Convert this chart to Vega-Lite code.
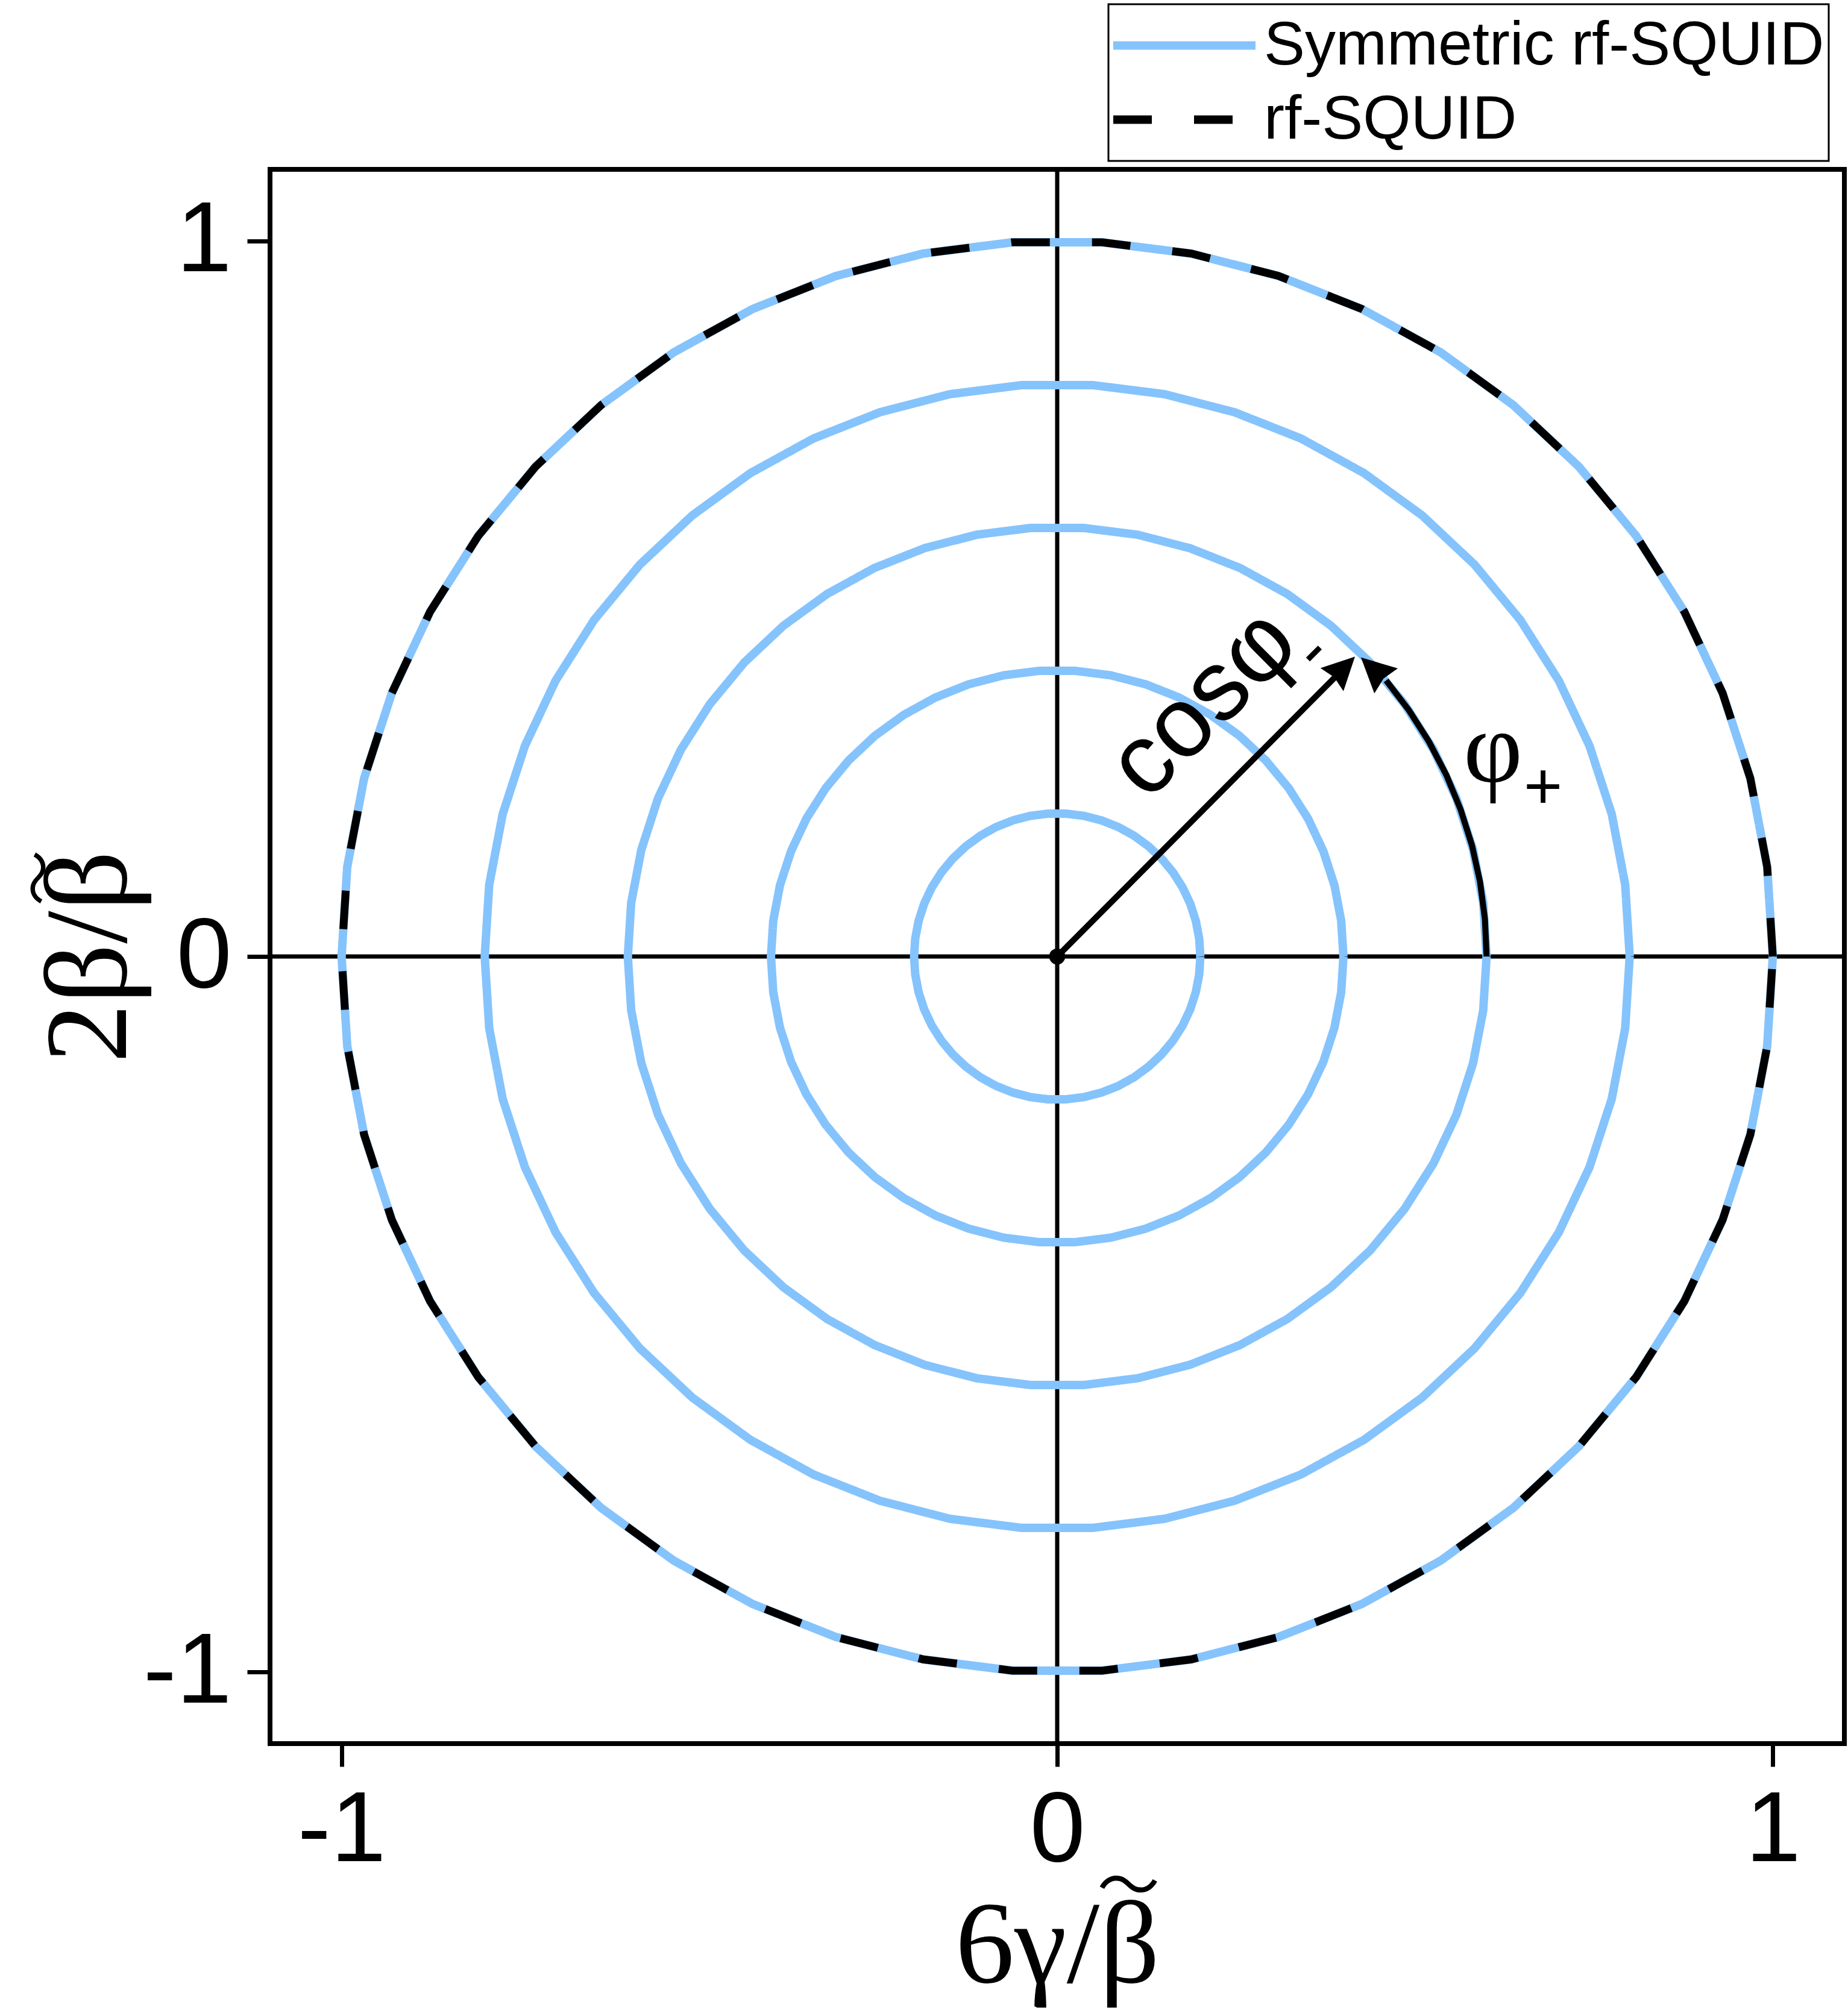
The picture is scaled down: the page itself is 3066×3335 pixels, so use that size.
{
  "$schema": "https://vega.github.io/schema/vega-lite/v6.json",
  "width": 2612,
  "height": 2612,
  "autosize": {"type": "none"},
  "padding": {"left": 448, "top": 281, "right": 6, "bottom": 442},
  "background": "white",
  "config": {
    "view": {"stroke": "black", "strokeWidth": 8},
    "axis": {
      "domain": false, "grid": false, "ticks": true, "tickColor": "black", "tickWidth": 7, "tickSize": 38,
      "labelFont": "Liberation Sans, Arial, Helvetica, sans-serif", "labelFontSize": 165, "labelColor": "black", "labelPadding": 26,
      "labelFlush": false, "labelOverlap": false, "labelBound": false,
      "titleFont": "Liberation Serif, Times New Roman, serif", "titleFontSize": 196, "titleColor": "black", "titleFontWeight": "normal"
    },
    "legend": {"strokeWidth": 3}
  },
  "datasets": {
    "circ": [
      {"g":1,"i":0,"x":0.2,"y":0},{"g":1,"i":1,"x":0.1984,"y":0.0251},{"g":1,"i":2,"x":0.1937,"y":0.0497},{"g":1,"i":3,"x":0.186,"y":0.0736},{"g":1,"i":4,"x":0.1753,"y":0.0964},{"g":1,"i":5,"x":0.1618,"y":0.1176},{"g":1,"i":6,"x":0.1458,"y":0.1369},{"g":1,"i":7,"x":0.1275,"y":0.1541},{"g":1,"i":8,"x":0.1072,"y":0.1689},{"g":1,"i":9,"x":0.0852,"y":0.181},{"g":1,"i":10,"x":0.0618,"y":0.1902},{"g":1,"i":11,"x":0.0375,"y":0.1965},{"g":1,"i":12,"x":0.0126,"y":0.1996},
      {"g":1,"i":13,"x":-0.0126,"y":0.1996},{"g":1,"i":14,"x":-0.0375,"y":0.1965},{"g":1,"i":15,"x":-0.0618,"y":0.1902},{"g":1,"i":16,"x":-0.0852,"y":0.181},{"g":1,"i":17,"x":-0.1072,"y":0.1689},{"g":1,"i":18,"x":-0.1275,"y":0.1541},{"g":1,"i":19,"x":-0.1458,"y":0.1369},{"g":1,"i":20,"x":-0.1618,"y":0.1176},{"g":1,"i":21,"x":-0.1753,"y":0.0964},{"g":1,"i":22,"x":-0.186,"y":0.0736},{"g":1,"i":23,"x":-0.1937,"y":0.0497},{"g":1,"i":24,"x":-0.1984,"y":0.0251},{"g":1,"i":25,"x":-0.2,"y":0},
      {"g":1,"i":26,"x":-0.1984,"y":-0.0251},{"g":1,"i":27,"x":-0.1937,"y":-0.0497},{"g":1,"i":28,"x":-0.186,"y":-0.0736},{"g":1,"i":29,"x":-0.1753,"y":-0.0964},{"g":1,"i":30,"x":-0.1618,"y":-0.1176},{"g":1,"i":31,"x":-0.1458,"y":-0.1369},{"g":1,"i":32,"x":-0.1275,"y":-0.1541},{"g":1,"i":33,"x":-0.1072,"y":-0.1689},{"g":1,"i":34,"x":-0.0852,"y":-0.181},{"g":1,"i":35,"x":-0.0618,"y":-0.1902},{"g":1,"i":36,"x":-0.0375,"y":-0.1965},{"g":1,"i":37,"x":-0.0126,"y":-0.1996},
      {"g":1,"i":38,"x":0.0126,"y":-0.1996},{"g":1,"i":39,"x":0.0375,"y":-0.1965},{"g":1,"i":40,"x":0.0618,"y":-0.1902},{"g":1,"i":41,"x":0.0852,"y":-0.181},{"g":1,"i":42,"x":0.1072,"y":-0.1689},{"g":1,"i":43,"x":0.1275,"y":-0.1541},{"g":1,"i":44,"x":0.1458,"y":-0.1369},{"g":1,"i":45,"x":0.1618,"y":-0.1176},{"g":1,"i":46,"x":0.1753,"y":-0.0964},{"g":1,"i":47,"x":0.186,"y":-0.0736},{"g":1,"i":48,"x":0.1937,"y":-0.0497},{"g":1,"i":49,"x":0.1984,"y":-0.0251},{"g":1,"i":50,"x":0.2,"y":0},

      {"g":2,"i":0,"x":0.4,"y":0},{"g":2,"i":1,"x":0.3968,"y":0.0501},{"g":2,"i":2,"x":0.3874,"y":0.0995},{"g":2,"i":3,"x":0.3719,"y":0.1472},{"g":2,"i":4,"x":0.3505,"y":0.1927},{"g":2,"i":5,"x":0.3236,"y":0.2351},{"g":2,"i":6,"x":0.2916,"y":0.2738},{"g":2,"i":7,"x":0.255,"y":0.3082},{"g":2,"i":8,"x":0.2143,"y":0.3377},{"g":2,"i":9,"x":0.1703,"y":0.3619},{"g":2,"i":10,"x":0.1236,"y":0.3804},{"g":2,"i":11,"x":0.075,"y":0.3929},{"g":2,"i":12,"x":0.0251,"y":0.3992},
      {"g":2,"i":13,"x":-0.0251,"y":0.3992},{"g":2,"i":14,"x":-0.075,"y":0.3929},{"g":2,"i":15,"x":-0.1236,"y":0.3804},{"g":2,"i":16,"x":-0.1703,"y":0.3619},{"g":2,"i":17,"x":-0.2143,"y":0.3377},{"g":2,"i":18,"x":-0.255,"y":0.3082},{"g":2,"i":19,"x":-0.2916,"y":0.2738},{"g":2,"i":20,"x":-0.3236,"y":0.2351},{"g":2,"i":21,"x":-0.3505,"y":0.1927},{"g":2,"i":22,"x":-0.3719,"y":0.1472},{"g":2,"i":23,"x":-0.3874,"y":0.0995},{"g":2,"i":24,"x":-0.3968,"y":0.0501},{"g":2,"i":25,"x":-0.4,"y":0},
      {"g":2,"i":26,"x":-0.3968,"y":-0.0501},{"g":2,"i":27,"x":-0.3874,"y":-0.0995},{"g":2,"i":28,"x":-0.3719,"y":-0.1472},{"g":2,"i":29,"x":-0.3505,"y":-0.1927},{"g":2,"i":30,"x":-0.3236,"y":-0.2351},{"g":2,"i":31,"x":-0.2916,"y":-0.2738},{"g":2,"i":32,"x":-0.255,"y":-0.3082},{"g":2,"i":33,"x":-0.2143,"y":-0.3377},{"g":2,"i":34,"x":-0.1703,"y":-0.3619},{"g":2,"i":35,"x":-0.1236,"y":-0.3804},{"g":2,"i":36,"x":-0.075,"y":-0.3929},{"g":2,"i":37,"x":-0.0251,"y":-0.3992},
      {"g":2,"i":38,"x":0.0251,"y":-0.3992},{"g":2,"i":39,"x":0.075,"y":-0.3929},{"g":2,"i":40,"x":0.1236,"y":-0.3804},{"g":2,"i":41,"x":0.1703,"y":-0.3619},{"g":2,"i":42,"x":0.2143,"y":-0.3377},{"g":2,"i":43,"x":0.255,"y":-0.3082},{"g":2,"i":44,"x":0.2916,"y":-0.2738},{"g":2,"i":45,"x":0.3236,"y":-0.2351},{"g":2,"i":46,"x":0.3505,"y":-0.1927},{"g":2,"i":47,"x":0.3719,"y":-0.1472},{"g":2,"i":48,"x":0.3874,"y":-0.0995},{"g":2,"i":49,"x":0.3968,"y":-0.0501},{"g":2,"i":50,"x":0.4,"y":0},

      {"g":3,"i":0,"x":0.6,"y":0},{"g":3,"i":1,"x":0.5953,"y":0.0752},{"g":3,"i":2,"x":0.5811,"y":0.1492},{"g":3,"i":3,"x":0.5579,"y":0.2209},{"g":3,"i":4,"x":0.5258,"y":0.2891},{"g":3,"i":5,"x":0.4854,"y":0.3527},{"g":3,"i":6,"x":0.4374,"y":0.4107},{"g":3,"i":7,"x":0.3825,"y":0.4623},{"g":3,"i":8,"x":0.3215,"y":0.5066},{"g":3,"i":9,"x":0.2555,"y":0.5429},{"g":3,"i":10,"x":0.1854,"y":0.5706},{"g":3,"i":11,"x":0.1124,"y":0.5894},{"g":3,"i":12,"x":0.0377,"y":0.5988},
      {"g":3,"i":13,"x":-0.0377,"y":0.5988},{"g":3,"i":14,"x":-0.1124,"y":0.5894},{"g":3,"i":15,"x":-0.1854,"y":0.5706},{"g":3,"i":16,"x":-0.2555,"y":0.5429},{"g":3,"i":17,"x":-0.3215,"y":0.5066},{"g":3,"i":18,"x":-0.3825,"y":0.4623},{"g":3,"i":19,"x":-0.4374,"y":0.4107},{"g":3,"i":20,"x":-0.4854,"y":0.3527},{"g":3,"i":21,"x":-0.5258,"y":0.2891},{"g":3,"i":22,"x":-0.5579,"y":0.2209},{"g":3,"i":23,"x":-0.5811,"y":0.1492},{"g":3,"i":24,"x":-0.5953,"y":0.0752},{"g":3,"i":25,"x":-0.6,"y":0},
      {"g":3,"i":26,"x":-0.5953,"y":-0.0752},{"g":3,"i":27,"x":-0.5811,"y":-0.1492},{"g":3,"i":28,"x":-0.5579,"y":-0.2209},{"g":3,"i":29,"x":-0.5258,"y":-0.2891},{"g":3,"i":30,"x":-0.4854,"y":-0.3527},{"g":3,"i":31,"x":-0.4374,"y":-0.4107},{"g":3,"i":32,"x":-0.3825,"y":-0.4623},{"g":3,"i":33,"x":-0.3215,"y":-0.5066},{"g":3,"i":34,"x":-0.2555,"y":-0.5429},{"g":3,"i":35,"x":-0.1854,"y":-0.5706},{"g":3,"i":36,"x":-0.1124,"y":-0.5894},{"g":3,"i":37,"x":-0.0377,"y":-0.5988},
      {"g":3,"i":38,"x":0.0377,"y":-0.5988},{"g":3,"i":39,"x":0.1124,"y":-0.5894},{"g":3,"i":40,"x":0.1854,"y":-0.5706},{"g":3,"i":41,"x":0.2555,"y":-0.5429},{"g":3,"i":42,"x":0.3215,"y":-0.5066},{"g":3,"i":43,"x":0.3825,"y":-0.4623},{"g":3,"i":44,"x":0.4374,"y":-0.4107},{"g":3,"i":45,"x":0.4854,"y":-0.3527},{"g":3,"i":46,"x":0.5258,"y":-0.2891},{"g":3,"i":47,"x":0.5579,"y":-0.2209},{"g":3,"i":48,"x":0.5811,"y":-0.1492},{"g":3,"i":49,"x":0.5953,"y":-0.0752},{"g":3,"i":50,"x":0.6,"y":0},

      {"g":4,"i":0,"x":0.8,"y":0},{"g":4,"i":1,"x":0.7937,"y":0.1003},{"g":4,"i":2,"x":0.7749,"y":0.199},{"g":4,"i":3,"x":0.7438,"y":0.2945},{"g":4,"i":4,"x":0.701,"y":0.3854},{"g":4,"i":5,"x":0.6472,"y":0.4702},{"g":4,"i":6,"x":0.5832,"y":0.5476},{"g":4,"i":7,"x":0.5099,"y":0.6164},{"g":4,"i":8,"x":0.4287,"y":0.6755},{"g":4,"i":9,"x":0.3406,"y":0.7239},{"g":4,"i":10,"x":0.2472,"y":0.7608},{"g":4,"i":11,"x":0.1499,"y":0.7858},{"g":4,"i":12,"x":0.0502,"y":0.7984},
      {"g":4,"i":13,"x":-0.0502,"y":0.7984},{"g":4,"i":14,"x":-0.1499,"y":0.7858},{"g":4,"i":15,"x":-0.2472,"y":0.7608},{"g":4,"i":16,"x":-0.3406,"y":0.7239},{"g":4,"i":17,"x":-0.4287,"y":0.6755},{"g":4,"i":18,"x":-0.5099,"y":0.6164},{"g":4,"i":19,"x":-0.5832,"y":0.5476},{"g":4,"i":20,"x":-0.6472,"y":0.4702},{"g":4,"i":21,"x":-0.701,"y":0.3854},{"g":4,"i":22,"x":-0.7438,"y":0.2945},{"g":4,"i":23,"x":-0.7749,"y":0.199},{"g":4,"i":24,"x":-0.7937,"y":0.1003},{"g":4,"i":25,"x":-0.8,"y":0},
      {"g":4,"i":26,"x":-0.7937,"y":-0.1003},{"g":4,"i":27,"x":-0.7749,"y":-0.199},{"g":4,"i":28,"x":-0.7438,"y":-0.2945},{"g":4,"i":29,"x":-0.701,"y":-0.3854},{"g":4,"i":30,"x":-0.6472,"y":-0.4702},{"g":4,"i":31,"x":-0.5832,"y":-0.5476},{"g":4,"i":32,"x":-0.5099,"y":-0.6164},{"g":4,"i":33,"x":-0.4287,"y":-0.6755},{"g":4,"i":34,"x":-0.3406,"y":-0.7239},{"g":4,"i":35,"x":-0.2472,"y":-0.7608},{"g":4,"i":36,"x":-0.1499,"y":-0.7858},{"g":4,"i":37,"x":-0.0502,"y":-0.7984},
      {"g":4,"i":38,"x":0.0502,"y":-0.7984},{"g":4,"i":39,"x":0.1499,"y":-0.7858},{"g":4,"i":40,"x":0.2472,"y":-0.7608},{"g":4,"i":41,"x":0.3406,"y":-0.7239},{"g":4,"i":42,"x":0.4287,"y":-0.6755},{"g":4,"i":43,"x":0.5099,"y":-0.6164},{"g":4,"i":44,"x":0.5832,"y":-0.5476},{"g":4,"i":45,"x":0.6472,"y":-0.4702},{"g":4,"i":46,"x":0.701,"y":-0.3854},{"g":4,"i":47,"x":0.7438,"y":-0.2945},{"g":4,"i":48,"x":0.7749,"y":-0.199},{"g":4,"i":49,"x":0.7937,"y":-0.1003},{"g":4,"i":50,"x":0.8,"y":0},

      {"g":5,"i":0,"x":1,"y":0},{"g":5,"i":1,"x":0.9921,"y":0.1253},{"g":5,"i":2,"x":0.9686,"y":0.2487},{"g":5,"i":3,"x":0.9298,"y":0.3681},{"g":5,"i":4,"x":0.8763,"y":0.4818},{"g":5,"i":5,"x":0.809,"y":0.5878},{"g":5,"i":6,"x":0.729,"y":0.6845},{"g":5,"i":7,"x":0.6374,"y":0.7705},{"g":5,"i":8,"x":0.5358,"y":0.8443},{"g":5,"i":9,"x":0.4258,"y":0.9048},{"g":5,"i":10,"x":0.309,"y":0.9511},{"g":5,"i":11,"x":0.1874,"y":0.9823},{"g":5,"i":12,"x":0.0628,"y":0.998},
      {"g":5,"i":13,"x":-0.0628,"y":0.998},{"g":5,"i":14,"x":-0.1874,"y":0.9823},{"g":5,"i":15,"x":-0.309,"y":0.9511},{"g":5,"i":16,"x":-0.4258,"y":0.9048},{"g":5,"i":17,"x":-0.5358,"y":0.8443},{"g":5,"i":18,"x":-0.6374,"y":0.7705},{"g":5,"i":19,"x":-0.729,"y":0.6845},{"g":5,"i":20,"x":-0.809,"y":0.5878},{"g":5,"i":21,"x":-0.8763,"y":0.4818},{"g":5,"i":22,"x":-0.9298,"y":0.3681},{"g":5,"i":23,"x":-0.9686,"y":0.2487},{"g":5,"i":24,"x":-0.9921,"y":0.1253},{"g":5,"i":25,"x":-1,"y":0},
      {"g":5,"i":26,"x":-0.9921,"y":-0.1253},{"g":5,"i":27,"x":-0.9686,"y":-0.2487},{"g":5,"i":28,"x":-0.9298,"y":-0.3681},{"g":5,"i":29,"x":-0.8763,"y":-0.4818},{"g":5,"i":30,"x":-0.809,"y":-0.5878},{"g":5,"i":31,"x":-0.729,"y":-0.6845},{"g":5,"i":32,"x":-0.6374,"y":-0.7705},{"g":5,"i":33,"x":-0.5358,"y":-0.8443},{"g":5,"i":34,"x":-0.4258,"y":-0.9048},{"g":5,"i":35,"x":-0.309,"y":-0.9511},{"g":5,"i":36,"x":-0.1874,"y":-0.9823},{"g":5,"i":37,"x":-0.0628,"y":-0.998},
      {"g":5,"i":38,"x":0.0628,"y":-0.998},{"g":5,"i":39,"x":0.1874,"y":-0.9823},{"g":5,"i":40,"x":0.309,"y":-0.9511},{"g":5,"i":41,"x":0.4258,"y":-0.9048},{"g":5,"i":42,"x":0.5358,"y":-0.8443},{"g":5,"i":43,"x":0.6374,"y":-0.7705},{"g":5,"i":44,"x":0.729,"y":-0.6845},{"g":5,"i":45,"x":0.809,"y":-0.5878},{"g":5,"i":46,"x":0.8763,"y":-0.4818},{"g":5,"i":47,"x":0.9298,"y":-0.3681},{"g":5,"i":48,"x":0.9686,"y":-0.2487},{"g":5,"i":49,"x":0.9921,"y":-0.1253},{"g":5,"i":50,"x":1,"y":0}
    ]
  },
  "layer": [
    {
      "data": {"values": [{}]},
      "mark": {"type": "rule", "color": "black", "strokeWidth": 7},
      "encoding": {"x": {"datum": 0, "type": "quantitative", "scale": {"domain": [-1.1, 1.1], "nice": false, "zero": false}}}
    },
    {
      "data": {"values": [{}]},
      "mark": {"type": "rule", "color": "black", "strokeWidth": 7},
      "encoding": {"y": {"datum": 0, "type": "quantitative", "scale": {"domain": [-1.1, 1.1], "nice": false, "zero": false}}}
    },
    {
      "data": {"name": "circ"},
      "mark": {"type": "line", "strokeWidth": 14},
      "encoding": {
        "x": {"field": "x", "type": "quantitative", "scale": {"domain": [-1.1, 1.1], "nice": false, "zero": false},
          "axis": {"values": [-1, 0, 1], "labelExpr": "'' + datum.value", "title": "6\u03b3/\u03b2", "titleX": 1306, "titleY": 395, "titleAlign": "center", "titleBaseline": "alphabetic", "titleAngle": 0}},
        "y": {"field": "y", "type": "quantitative", "scale": {"domain": [-1.1, 1.1], "nice": false, "zero": false},
          "axis": {"values": [-1, 0, 1], "labelExpr": "'' + datum.value", "title": "2\u03b2/\u03b2", "titleX": -240, "titleY": 1306, "titleAlign": "center", "titleBaseline": "alphabetic", "titleAngle": 270}},
        "detail": {"field": "g", "type": "nominal"},
        "order": {"field": "i", "type": "quantitative"},
        "color": {"datum": "Symmetric rf-SQUID", "type": "nominal",
          "scale": {"domain": ["Symmetric rf-SQUID", "rf-SQUID"], "range": ["#85C3FC", "#000000"]},
          "legend": {"orient": "none", "legendX": 1391, "legendY": -274, "title": null, "symbolType": "stroke", "symbolSize": 55696, "symbolStrokeWidth": 14, "labelFont": "Liberation Sans, Arial, Helvetica, sans-serif", "labelFontSize": 102, "labelColor": "black", "labelLimit": 0, "labelOffset": 7, "symbolOffset": -6, "padding": 7, "clipHeight": 123, "rowPadding": 0, "strokeColor": "black"}},
        "strokeDash": {"datum": "Symmetric rf-SQUID", "type": "nominal",
          "scale": {"domain": ["Symmetric rf-SQUID", "rf-SQUID"], "range": [[1, 0], [64, 70]]},
          "legend": {"orient": "none", "legendX": 1391, "legendY": -274, "title": null, "symbolType": "stroke", "symbolSize": 55696, "symbolStrokeWidth": 14, "labelFont": "Liberation Sans, Arial, Helvetica, sans-serif", "labelFontSize": 102, "labelColor": "black", "labelLimit": 0, "labelOffset": 7, "symbolOffset": -6, "padding": 7, "clipHeight": 123, "rowPadding": 0, "strokeColor": "black"}}
      }
    },
    {
      "data": {"name": "circ"},
      "transform": [{"filter": "datum.g == 5"}],
      "mark": {"type": "line", "strokeWidth": 13},
      "encoding": {
        "x": {"field": "x", "type": "quantitative", "scale": {"domain": [-1.1, 1.1], "nice": false, "zero": false}},
        "y": {"field": "y", "type": "quantitative", "scale": {"domain": [-1.1, 1.1], "nice": false, "zero": false}},
        "order": {"field": "i", "type": "quantitative"},
        "color": {"datum": "rf-SQUID", "type": "nominal"},
        "strokeDash": {"datum": "rf-SQUID", "type": "nominal"}
      }
    },
    {
      "data": {"values": [
        {"i":0,"x":0.6,"y":0},{"i":1,"x":0.5977,"y":0.0523},{"i":2,"x":0.5909,"y":0.1042},{"i":3,"x":0.5796,"y":0.1553},{"i":4,"x":0.5638,"y":0.2052},{"i":5,"x":0.5438,"y":0.2536},{"i":6,"x":0.5196,"y":0.3},{"i":7,"x":0.4915,"y":0.3441},{"i":8,"x":0.4596,"y":0.3857}
      ]},
      "mark": {"type": "line", "color": "black", "strokeWidth": 10},
      "encoding": {
        "x": {"field": "x", "type": "quantitative", "scale": {"domain": [-1.1, 1.1], "nice": false, "zero": false}},
        "y": {"field": "y", "type": "quantitative", "scale": {"domain": [-1.1, 1.1], "nice": false, "zero": false}},
        "order": {"field": "i", "type": "quantitative"}
      }
    },
    {
      "data": {"values": [{"x": 0, "y": 0, "x2": 0.39, "y2": 0.392}]},
      "mark": {"type": "rule", "color": "black", "strokeWidth": 10},
      "encoding": {
        "x": {"field": "x", "type": "quantitative", "scale": {"domain": [-1.1, 1.1], "nice": false, "zero": false}},
        "y": {"field": "y", "type": "quantitative", "scale": {"domain": [-1.1, 1.1], "nice": false, "zero": false}},
        "x2": {"field": "x2"},
        "y2": {"field": "y2"}
      }
    },
    {
      "data": {"values": [{"x": 0.4, "y": 0.403}]},
      "mark": {"type": "point", "shape": "M0,-1L1,1L0,0.8L-1,1Z", "filled": true, "color": "black", "opacity": 1, "size": 2916, "angle": 45},
      "encoding": {
        "x": {"field": "x", "type": "quantitative", "scale": {"domain": [-1.1, 1.1], "nice": false, "zero": false}},
        "y": {"field": "y", "type": "quantitative", "scale": {"domain": [-1.1, 1.1], "nice": false, "zero": false}}
      }
    },
    {
      "data": {"values": [{"x": 0.442, "y": 0.4015}]},
      "mark": {"type": "point", "shape": "M0,-1L1,1L0,0.8L-1,1Z", "filled": true, "color": "black", "opacity": 1, "size": 3249, "angle": -47},
      "encoding": {
        "x": {"field": "x", "type": "quantitative", "scale": {"domain": [-1.1, 1.1], "nice": false, "zero": false}},
        "y": {"field": "y", "type": "quantitative", "scale": {"domain": [-1.1, 1.1], "nice": false, "zero": false}}
      }
    },
    {
      "data": {"values": [{"x": 0, "y": 0}]},
      "mark": {"type": "point", "shape": "circle", "filled": true, "color": "black", "opacity": 1, "size": 707},
      "encoding": {
        "x": {"field": "x", "type": "quantitative", "scale": {"domain": [-1.1, 1.1], "nice": false, "zero": false}},
        "y": {"field": "y", "type": "quantitative", "scale": {"domain": [-1.1, 1.1], "nice": false, "zero": false}}
      }
    },
    {
      "data": {"values": [{"x": 0.126, "y": 0.215, "t": "cos\u03c6"}]},
      "mark": {"type": "text", "font": "Liberation Sans, Arial, Helvetica, sans-serif", "fontSize": 165, "color": "black", "angle": -45, "align": "left", "baseline": "alphabetic"},
      "encoding": {
        "x": {"field": "x", "type": "quantitative", "scale": {"domain": [-1.1, 1.1], "nice": false, "zero": false}},
        "y": {"field": "y", "type": "quantitative", "scale": {"domain": [-1.1, 1.1], "nice": false, "zero": false}},
        "text": {"field": "t"}
      }
    },
    {
      "data": {"values": [{"x": 0.356, "y": 0.426, "t": "-"}]},
      "mark": {"type": "text", "font": "Liberation Sans, Arial, Helvetica, sans-serif", "fontSize": 115, "color": "black", "angle": -45, "align": "center", "baseline": "middle"},
      "encoding": {
        "x": {"field": "x", "type": "quantitative", "scale": {"domain": [-1.1, 1.1], "nice": false, "zero": false}},
        "y": {"field": "y", "type": "quantitative", "scale": {"domain": [-1.1, 1.1], "nice": false, "zero": false}},
        "text": {"field": "t"}
      }
    },
    {
      "data": {"values": [{"x": 0.609, "y": 0.244, "t": "\u03c6"}]},
      "mark": {"type": "text", "font": "Liberation Serif, Times New Roman, serif", "fontSize": 170, "color": "black", "align": "center", "baseline": "alphabetic"},
      "encoding": {
        "x": {"field": "x", "type": "quantitative", "scale": {"domain": [-1.1, 1.1], "nice": false, "zero": false}},
        "y": {"field": "y", "type": "quantitative", "scale": {"domain": [-1.1, 1.1], "nice": false, "zero": false}},
        "text": {"field": "t"}
      }
    },
    {
      "data": {"values": [{"x": 0.679, "y": 0.206, "t": "+"}]},
      "mark": {"type": "text", "font": "Liberation Sans, Arial, Helvetica, sans-serif", "fontSize": 110, "color": "black", "align": "center", "baseline": "alphabetic"},
      "encoding": {
        "x": {"field": "x", "type": "quantitative", "scale": {"domain": [-1.1, 1.1], "nice": false, "zero": false}},
        "y": {"field": "y", "type": "quantitative", "scale": {"domain": [-1.1, 1.1], "nice": false, "zero": false}},
        "text": {"field": "t"}
      }
    },
    {
      "data": {"values": [{"x": 0.0996, "y": -1.3036, "t": "\u301c"}]},
      "mark": {"type": "text", "font": "Noto Sans CJK JP", "fontSize": 104, "color": "black", "align": "center", "baseline": "middle"},
      "encoding": {
        "x": {"field": "x", "type": "quantitative", "scale": {"domain": [-1.1, 1.1], "nice": false, "zero": false}},
        "y": {"field": "y", "type": "quantitative", "scale": {"domain": [-1.1, 1.1], "nice": false, "zero": false}},
        "text": {"field": "t"}
      }
    },
    {
      "data": {"values": [{"x": -1.4299, "y": 0.1096, "t": "\u301c"}]},
      "mark": {"type": "text", "font": "Noto Sans CJK JP", "fontSize": 92, "color": "black", "angle": 90, "align": "center", "baseline": "middle"},
      "encoding": {
        "x": {"field": "x", "type": "quantitative", "scale": {"domain": [-1.1, 1.1], "nice": false, "zero": false}},
        "y": {"field": "y", "type": "quantitative", "scale": {"domain": [-1.1, 1.1], "nice": false, "zero": false}},
        "text": {"field": "t"}
      }
    }
  ]
}
